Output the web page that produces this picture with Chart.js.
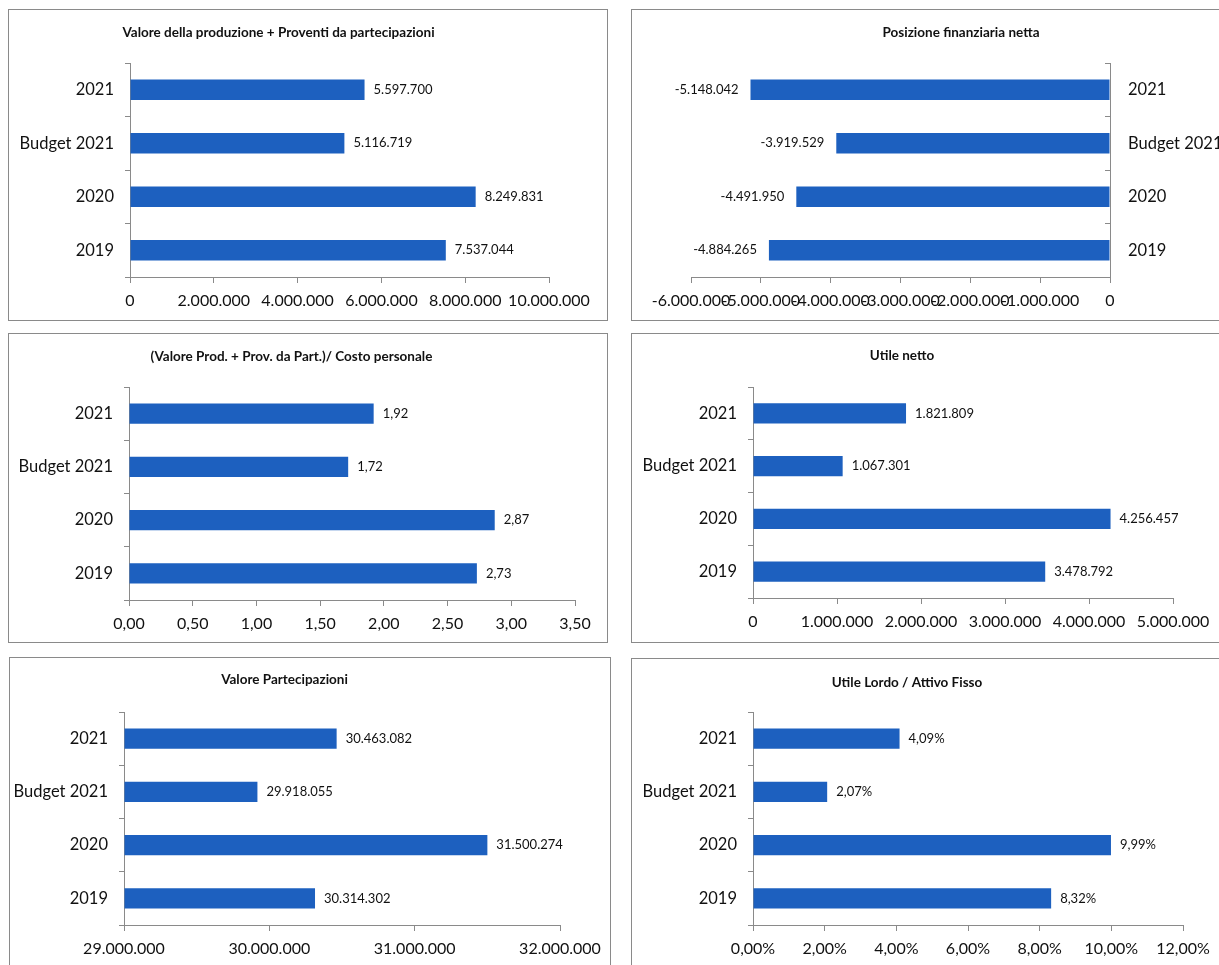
<!DOCTYPE html>
<html><head><meta charset="utf-8">
<script src="https://cdn.jsdelivr.net/npm/chart.js@4.4.0/dist/chart.umd.min.js"></script>
<style>
html,body{margin:0;padding:0;background:#fff;width:1219px;height:965px;overflow:hidden;position:relative;}
.panel{position:absolute;}
.frame{position:absolute;border:1px solid #8a8a8a;box-sizing:border-box;pointer-events:none;}
canvas{display:block;}
</style></head><body>
<script>
// ---------- data ----------
const categories = ['2021', 'Budget 2021', '2020', '2019'];

const produzioneTitle = 'Valore della produzione + Proventi da partecipazioni';
const produzioneValues = [5597700, 5116719, 8249831, 7537044];
const produzioneTicks = [0, 2000000, 4000000, 6000000, 8000000, 10000000];

const pfnTitle = 'Posizione finanziaria netta';
const pfnValues = [-5148042, -3919529, -4491950, -4884265];
const pfnTicks = [-6000000, -5000000, -4000000, -3000000, -2000000, -1000000, 0];

const rapportoTitle = '(Valore Prod. + Prov. da Part.)/ Costo personale';
const rapportoValues = [1.92, 1.72, 2.87, 2.73];
const rapportoTicks = [0, 0.5, 1, 1.5, 2, 2.5, 3, 3.5];

const utileTitle = 'Utile netto';
const utileValues = [1821809, 1067301, 4256457, 3478792];
const utileTicks = [0, 1000000, 2000000, 3000000, 4000000, 5000000];

const partecipazioniTitle = 'Valore Partecipazioni';
const partecipazioniValues = [30463082, 29918055, 31500274, 30314302];
const partecipazioniTicks = [29000000, 30000000, 31000000, 32000000];

const roaTitle = 'Utile Lordo / Attivo Fisso';
const roaValues = [4.09, 2.07, 9.99, 8.32];
const roaTicks = [0, 2, 4, 6, 8, 10, 12];

// ---------- formatting ----------
function fmtInt(v) {
  const s = Math.round(Math.abs(v)).toString().replace(/\B(?=(\d{3})+(?!\d))/g, '.');
  return (v < 0 ? '-' : '') + s;
}
function fmtDec(v) { return v.toFixed(2).replace('.', ','); }
function fmtPct(v) { return fmtDec(v) + '%'; }

// ---------- style ----------
const FONT = 'Lato, "Open Sans", sans-serif';
const BAR = '#1d60bf';
const AXIS = '#8a8a8a';
const TEXT = '#111111';

const panels = [
  { title: produzioneTitle, values: produzioneValues, ticks: produzioneTicks, fmt: fmtInt, tickFmt: fmtInt,
    box: [8, 9, 600, 312], plot: [130, 549, 63, 277], titleY: 33, side: 'left' },
  { title: pfnTitle, values: pfnValues, ticks: pfnTicks, fmt: fmtInt, tickFmt: fmtInt,
    box: [631, 9, 600, 312], plot: [691, 1110, 63, 277], titleY: 33, side: 'right' },
  { title: rapportoTitle, values: rapportoValues, ticks: rapportoTicks, fmt: fmtDec, tickFmt: fmtDec,
    box: [8, 333, 600, 310], plot: [129, 575, 387, 600], titleY: 357, side: 'left' },
  { title: utileTitle, values: utileValues, ticks: utileTicks, fmt: fmtInt, tickFmt: fmtInt,
    box: [631, 333, 600, 310], plot: [753, 1173, 387, 598], titleY: 356, side: 'left' },
  { title: partecipazioniTitle, values: partecipazioniValues, ticks: partecipazioniTicks, fmt: fmtInt, tickFmt: fmtInt,
    box: [9, 657, 602, 320], plot: [124, 560, 712, 925], titleY: 680, side: 'left' },
  { title: roaTitle, values: roaValues, ticks: roaTicks, fmt: fmtPct, tickFmt: fmtPct,
    box: [631, 658, 600, 320], plot: [753, 1183, 712, 925], titleY: 683, side: 'left' },
];

function makeValueLabels(fmt) {
  return {
    id: 'valueLabels',
    afterDatasetsDraw(chart) {
      const ctx = chart.ctx;
      const meta = chart.getDatasetMeta(0);
      const data = chart.data.datasets[0].data;
      ctx.save();
      ctx.font = '13px ' + FONT;
      ctx.fillStyle = TEXT;
      ctx.textBaseline = 'middle';
      meta.data.forEach((bar, i) => {
        const v = data[i];
        if (v < 0) { ctx.textAlign = 'right'; ctx.fillText(fmt(v), bar.x - 12, bar.y); }
        else { ctx.textAlign = 'left'; ctx.fillText(fmt(v), bar.x + 9, bar.y); }
      });
      ctx.restore();
    }
  };
}

panels.forEach(p => {
  const [bx, by, bw, bh] = p.box;
  const [pl, pr, pt, pb] = p.plot;
  const holder = document.createElement('div');
  holder.className = 'panel';
  holder.style.left = bx + 'px'; holder.style.top = by + 'px';
  holder.style.width = bw + 'px'; holder.style.height = bh + 'px';
  const canvas = document.createElement('canvas');
  canvas.width = bw; canvas.height = bh;
  canvas.style.width = bw + 'px'; canvas.style.height = bh + 'px';
  holder.appendChild(canvas);
  document.body.appendChild(holder);
  const frame = document.createElement('div');
  frame.className = 'frame';
  frame.style.left = bx + 'px'; frame.style.top = by + 'px';
  frame.style.width = bw + 'px'; frame.style.height = bh + 'px';
  document.body.appendChild(frame);

  const titleSize = 13.5, titleLH = titleSize * 1.2;
  const titleTop = p.titleY - by - titleLH / 2;
  const titleBottom = pt - p.titleY - titleLH / 2;
  const yWidth = p.side === 'left' ? pl - bx : (bx + bw) - pr;
  const xHeight = (by + bh) - pb;
  const padL = p.side === 'left' ? 0 : pl - bx;
  const padR = p.side === 'left' ? (bx + bw) - pr : 0;
  const tickList = p.ticks;

  new Chart(canvas, {
    type: 'bar',
    data: {
      labels: categories,
      datasets: [{
        data: p.values,
        backgroundColor: BAR,
        borderWidth: 0,
        base: tickList[0] > 0 ? tickList[0] : 0,
        barPercentage: 0.38,
        categoryPercentage: 1.0
      }]
    },
    options: {
      indexAxis: 'y',
      responsive: false,
      animation: false,
      events: [],
      layout: { padding: { left: padL, right: padR, top: 0, bottom: 0 } },
      plugins: {
        legend: { display: false },
        tooltip: { enabled: false },
        title: {
          display: true,
          text: p.title,
          color: TEXT,
          font: { family: FONT, size: titleSize, weight: 'bold', lineHeight: 1.2 },
          padding: { top: titleTop, bottom: titleBottom }
        }
      },
      scales: {
        x: {
          type: 'linear',
          min: tickList[0],
          max: tickList[tickList.length - 1],
          afterBuildTicks: s => { s.ticks = tickList.map(v => ({ value: v })); },
          afterFit: s => { s.height = xHeight; },
          grid: { drawOnChartArea: false, drawTicks: true, tickLength: 6, color: AXIS, lineWidth: 1 },
          border: { display: true, color: AXIS, width: 1 },
          ticks: {
            autoSkip: false, maxRotation: 0, padding: 8, color: TEXT,
            font: { family: FONT, size: 16 },
            callback: v => p.tickFmt(v)
          }
        },
        y: {
          type: 'category',
          position: p.side,
          offset: true,
          afterFit: s => { s.width = yWidth; },
          grid: { offset: true, drawOnChartArea: false, drawTicks: true,
                  tickLength: p.side === 'left' ? 5 : -5, color: AXIS, lineWidth: 1 },
          border: { display: true, color: AXIS, width: 1 },
          ticks: { padding: p.side === 'left' ? 11 : 23, color: TEXT, font: { family: FONT, size: 16.5 } }
        }
      }
    },
    plugins: [makeValueLabels(p.fmt)]
  });
});
</script>
</body></html>
